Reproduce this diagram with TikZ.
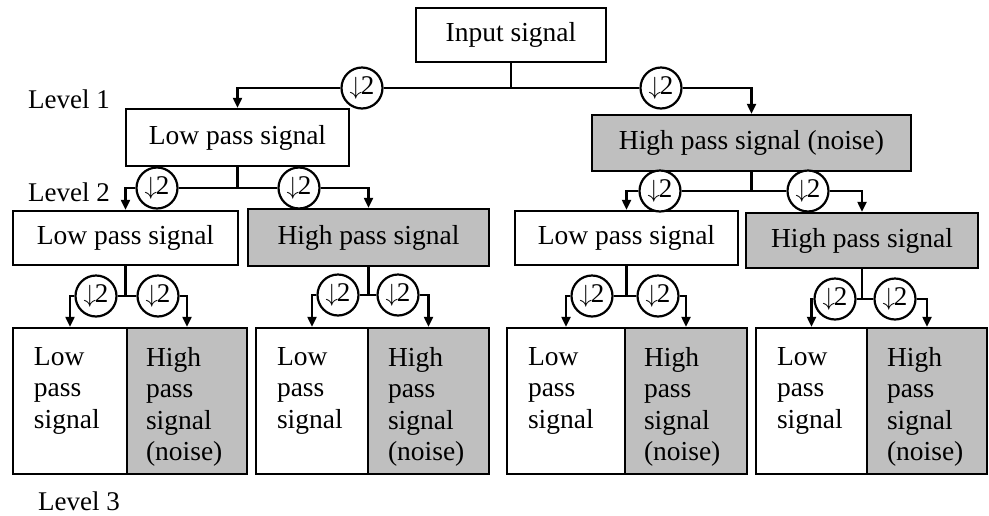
\documentclass[tikz,border=0pt]{standalone}
\usepackage{fontspec}
\setmainfont{Liberation Serif}
\usetikzlibrary{arrows.meta,calc}
\definecolor{hpgrey}{RGB}{191,191,191}
\newcommand{\dsmark}{$\downarrow$\kern-1pt 2}
\begin{document}
\begin{tikzpicture}[x=1pt,y=-1pt,
  box/.style={draw,line width=2.4pt,inner sep=0pt,font=\fontsize{27.5}{31.5}\selectfont},
  lowbox/.style={box,fill=white},
  highbox/.style={box,fill=hpgrey},
  ds/.style={circle,draw,line width=2.2pt,fill=white,minimum size=41pt,inner sep=0pt,font=\fontsize{27}{27}\selectfont},
  link/.style={line width=2.2pt},
  feed/.style={link,-{Triangle[length=10pt,width=9pt]}},
  lvl/.style={anchor=base west,font=\fontsize{27}{30}\selectfont,inner sep=0pt},
  cell/.style={anchor=north west,align=left,inner sep=0pt,font=\fontsize{27.5}{31.5}\selectfont}]
\useasboundingbox (0,0) rectangle (989,515);

% level labels
\node[lvl] (lev1) at (28,108) {Level 1};
\node[lvl] (lev2) at (28,201) {Level 2};
\node[lvl] (lev3) at (38,510) {Level 3};

% input and level 1
\node[lowbox,minimum width=190pt,minimum height=54pt] (in) at (511,35) {Input signal};
\node[lowbox,minimum width=223pt,minimum height=57pt] (l1L) at (237.5,137.5) {Low pass signal};
\node[highbox,minimum width=319pt,minimum height=56pt] (l1H) at (751.5,143) {High pass signal (noise)};

% level 2
\node[lowbox,minimum width=225pt,minimum height=54pt] (l2a) at (125.5,238) {Low pass signal};
\node[highbox,minimum width=241pt,minimum height=57pt] (l2b) at (368.5,237.5) {High pass signal};
\node[lowbox,minimum width=223pt,minimum height=54pt] (l2c) at (626.5,238) {Low pass signal};
\node[highbox,minimum width=232pt,minimum height=55pt] (l2d) at (862,240.5) {High pass signal};

% level 3 cells
\node[lowbox,minimum width=114pt,minimum height=146pt] (a1) at (70,401) {};
\node[highbox,minimum width=120pt,minimum height=146pt] (a2) at (187,401) {};
\node[lowbox,minimum width=112pt,minimum height=146pt] (b1) at (312,401) {};
\node[highbox,minimum width=121pt,minimum height=146pt] (b2) at (428.5,401) {};
\node[lowbox,minimum width=118pt,minimum height=146pt] (c1) at (566,401) {};
\node[highbox,minimum width=122pt,minimum height=146pt] (c2) at (686,401) {};
\node[lowbox,minimum width=111pt,minimum height=146pt] (d1) at (811.5,401) {};
\node[highbox,minimum width=120pt,minimum height=146pt] (d2) at (927,401) {};

\foreach \c/\dx in {a1/22,b1/22,c1/22,d1/22}
  \node[cell] (\c t) at ($(\c.north west)+(\dx,20)$) {Low\\pass\\signal};
\foreach \c/\dx in {a2/20,b2/21,c2/20,d2/21}
  \node[cell] (\c t) at ($(\c.north west)+(\dx,20)$) {High\\pass\\signal\\(noise)};

% downsampling circles
\node[ds] (s0a) at (362,88) {\dsmark};
\node[ds] (s0b) at (661,88) {\dsmark};
\node[ds] (s1a) at (157,188) {\dsmark};
\node[ds] (s1b) at (299,188) {\dsmark};
\node[ds] (s1c) at (660,191) {\dsmark};
\node[ds] (s1d) at (808,191) {\dsmark};
\node[ds] (s2a) at (96,296) {\dsmark};
\node[ds] (s2b) at (158,296) {\dsmark};
\node[ds] (s2c) at (338,295) {\dsmark};
\node[ds] (s2d) at (398,295) {\dsmark};
\node[ds] (s2e) at (592,296) {\dsmark};
\node[ds] (s2f) at (658,296) {\dsmark};
\node[ds] (s2g) at (835,299) {\dsmark};
\node[ds] (s2h) at (895,299) {\dsmark};

% connectors: parent -> circle -> child
\foreach \p/\l/\r/\cl/\cr in {in/s0a/s0b/l1L/l1H,
                              l1L/s1a/s1b/l2a/l2b,
                              l1H/s1c/s1d/l2c/l2d,
                              l2a/s2a/s2b/a1/a2,
                              l2b/s2c/s2d/b1/b2,
                              l2c/s2e/s2f/c1/c2,
                              l2d/s2g/s2h/d1/d2}{
  \draw[link] (\p.south) |- (\l.east);
  \draw[link] (\p.south) |- (\r.west);
  \draw[feed] (\l.west) -| (\cl.north);
  \draw[feed] (\r.east) -| (\cr.north);
}
\end{tikzpicture}
\end{document}
